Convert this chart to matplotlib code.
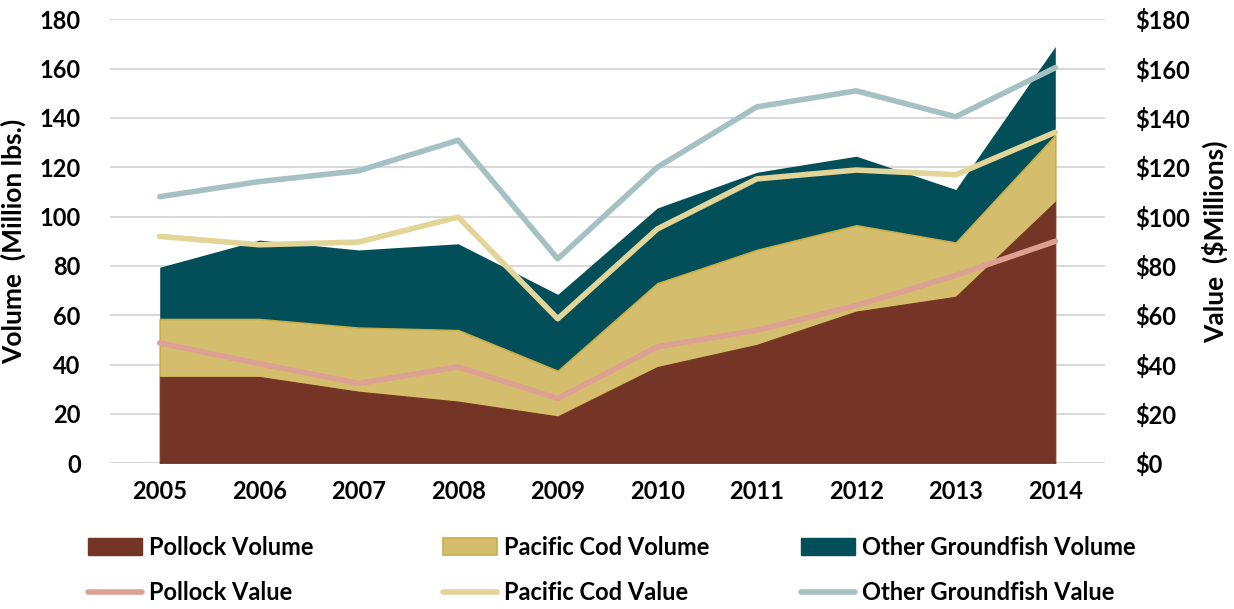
import matplotlib
matplotlib.use("Agg")
import matplotlib.pyplot as plt
import numpy as np
from matplotlib.patches import Patch
from matplotlib.lines import Line2D

plt.rcParams['font.family'] = ['Lato', 'DejaVu Sans']
plt.rcParams['font.weight'] = 'bold'

years = ['2005', '2006', '2007', '2008', '2009', '2010', '2011', '2012', '2013', '2014']

# Volumes (million lbs), stacked
pollock_volume = [35, 35, 29, 25, 19, 39, 48, 61.5, 67.5, 106]
cod_volume = [23.5, 23.5, 26, 29, 18.5, 34, 38.5, 35, 22, 27]
other_volume = [21, 32, 31.5, 35, 31, 30.5, 31.5, 28, 21.5, 36]

# Values ($ millions), stacked lines
pollock_value = [48.8, 40.4, 32.4, 39.1, 26.3, 47.2, 53.9, 64, 76.2, 90]
cod_value = [43.2, 48.2, 57.3, 60.7, 32.3, 47.8, 61.4, 54.9, 40.8, 44.2]
other_value = [16.1, 25.6, 28.9, 31.2, 24.3, 25, 29.2, 32.1, 23.5, 26.2]

yticks = [0, 20, 40, 60, 80, 100, 120, 140, 160, 180]

c_pol = '#743526'
c_cod = '#D4BE6E'
c_cod_edge = '#C9AD45'
c_oth = '#024F5A'
c_polv = '#DDA193'
c_codv = '#E2D597'
c_othv = '#A6C1C3'

fig = plt.figure(figsize=(12.34, 6.09), dpi=100)
ax = fig.add_axes([0.0891, 0.2392, 0.8064, 0.7291])
x = np.arange(len(years))

pv = np.array(pollock_volume)
cv = pv + np.array(cod_volume)
ov = cv + np.array(other_volume)
ax.fill_between(x, 0, pv, color=c_pol, lw=0.8, edgecolor=c_pol, zorder=3)
ax.fill_between(x, pv, cv, facecolor=c_cod, edgecolor=c_cod_edge, lw=1.2, zorder=2)
ax.fill_between(x, cv, ov, color=c_oth, lw=0, zorder=1)

ax.set_xlim(-0.5, 9.5)
ax.set_ylim(0, 180)
ax.set_yticks(yticks)
ax.set_yticklabels([str(t) for t in yticks])
ax.set_xticks(x)
ax.set_xticklabels(years)
ax.grid(axis='y', color='#D9D9D9', lw=1.5, zorder=0)
ax.set_axisbelow(True)
for s in ax.spines.values():
    s.set_visible(False)
ax.tick_params(axis='both', length=0, labelsize=17)
ax.tick_params(axis='y', pad=21)
ax.tick_params(axis='x', pad=12)
ax.set_ylabel('Volume  (Million lbs.)', fontsize=19, fontweight='bold', labelpad=10)

ax2 = ax.twinx()
ax2.set_ylim(0, 180)
ax2.set_yticks(yticks)
ax2.set_yticklabels(['$' + str(t) for t in yticks])
for s in ax2.spines.values():
    s.set_visible(False)
ax2.tick_params(axis='y', length=0, labelsize=17, pad=22)
ax2.set_ylabel('Value  ($Millions)', fontsize=19, fontweight='bold', labelpad=8)

plv = np.array(pollock_value)
clv = plv + np.array(cod_value)
olv = clv + np.array(other_value)
lw = 4
ax2.plot(x, plv, color=c_polv, lw=lw, solid_capstyle='round', solid_joinstyle='round')
ax2.plot(x, clv, color=c_codv, lw=lw, solid_capstyle='round', solid_joinstyle='round')
ax2.plot(x, olv, color=c_othv, lw=lw, solid_capstyle='round', solid_joinstyle='round')

groups = [
    ([Patch(facecolor=c_pol, edgecolor=c_pol), Line2D([], [], color=c_polv, lw=lw, solid_capstyle='round')],
     ['Pollock Volume', 'Pollock Value'], 88),
    ([Patch(facecolor=c_cod, edgecolor=c_cod_edge, lw=1.2), Line2D([], [], color=c_codv, lw=lw, solid_capstyle='round')],
     ['Pacific Cod Volume', 'Pacific Cod Value'], 443),
    ([Patch(facecolor=c_oth, edgecolor=c_oth), Line2D([], [], color=c_othv, lw=lw, solid_capstyle='round')],
     ['Other Groundfish Volume', 'Other Groundfish Value'], 801),
]
for handles, labels, xpx in groups:
    fig.legend(handles, labels, loc='upper left', bbox_to_anchor=(xpx / 1234, 1 - 536 / 609),
               frameon=False, handlelength=2.3, handleheight=0.7,
               handletextpad=0.3, borderpad=0, borderaxespad=0, labelspacing=0.95,
               prop={'weight': 'bold', 'size': 17})

fig.savefig('out.png', dpi=100)
